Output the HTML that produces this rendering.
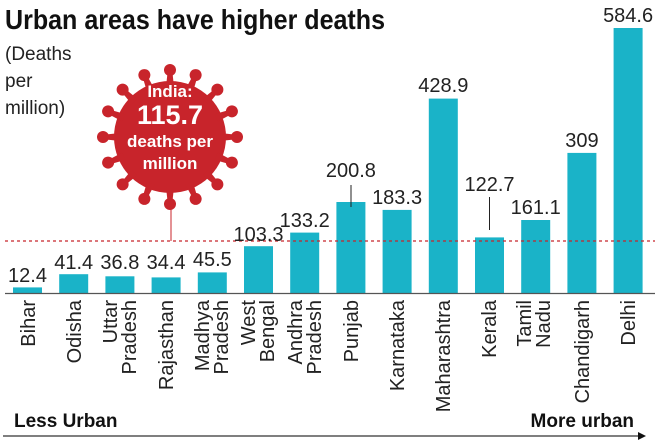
<!DOCTYPE html>
<html><head><meta charset="utf-8"><style>
html,body{margin:0;padding:0;background:#fff;}
svg{display:block;font-family:"Liberation Sans",sans-serif;}
</style></head><body>
<svg width="660" height="440" viewBox="0 0 660 440">
<text x="5" y="29" font-size="28" font-weight="bold" fill="#111" textLength="380" lengthAdjust="spacingAndGlyphs">Urban areas have higher deaths</text>
<text x="5" y="60" font-size="19" fill="#222">(Deaths</text>
<text x="5" y="87" font-size="19" fill="#222">per</text>
<text x="5" y="114" font-size="19" fill="#222">million)</text>

<!-- virus -->
<g fill="#c8242b" transform="translate(170,137)">
<circle r="56"/>
<g id="sp">
<path d="M-4,-50 L-2.5,-64 L2.5,-64 L4,-50 Z"/><circle cx="0" cy="-67" r="6"/>
</g>
<use href="#sp" transform="rotate(22.5)"/><use href="#sp" transform="rotate(45)"/><use href="#sp" transform="rotate(67.5)"/>
<use href="#sp" transform="rotate(90)"/><use href="#sp" transform="rotate(112.5)"/><use href="#sp" transform="rotate(135)"/>
<use href="#sp" transform="rotate(157.5)"/><use href="#sp" transform="rotate(180)"/><use href="#sp" transform="rotate(202.5)"/>
<use href="#sp" transform="rotate(225)"/><use href="#sp" transform="rotate(247.5)"/><use href="#sp" transform="rotate(270)"/>
<use href="#sp" transform="rotate(292.5)"/><use href="#sp" transform="rotate(315)"/><use href="#sp" transform="rotate(337.5)"/>
</g>
<g fill="#fff" font-weight="bold" text-anchor="middle">
<text x="170" y="97" font-size="17">India:</text>
<text x="170" y="124" font-size="27">115.7</text>
<text x="170" y="147" font-size="17">deaths per</text>
<text x="170" y="169" font-size="17">million</text>
</g>
<line x1="171" y1="200" x2="171" y2="241" stroke="#c8242b" stroke-width="1"/>

<!-- bars -->
<g fill="#1ab3c8">
<rect x="13" y="287.4" width="29" height="5.6"/>
<rect x="59.2" y="274.2" width="29" height="18.8"/>
<rect x="105.4" y="276.3" width="29" height="16.7"/>
<rect x="151.6" y="277.4" width="29" height="15.6"/>
<rect x="197.8" y="272.4" width="29" height="20.6"/>
<rect x="244" y="246.2" width="29" height="46.8"/>
<rect x="290.2" y="232.6" width="29" height="60.4"/>
<rect x="336.4" y="202" width="29" height="91"/>
<rect x="382.6" y="209.9" width="29" height="83.1"/>
<rect x="428.8" y="98.6" width="29" height="194.4"/>
<rect x="475" y="237.4" width="29" height="55.6"/>
<rect x="521.2" y="220" width="29" height="73"/>
<rect x="567.4" y="152.9" width="29" height="140.1"/>
<rect x="613.6" y="28" width="29" height="265"/>
</g>
<line x1="5" y1="241" x2="655" y2="241" stroke="#c8242b" stroke-width="1.3" stroke-dasharray="3,3"/>
<line x1="5" y1="293.5" x2="655" y2="293.5" stroke="#555" stroke-width="1.2"/>

<g font-size="20" fill="#222" text-anchor="middle">
<text x="27.5" y="282">12.4</text>
<text x="73.7" y="269">41.4</text>
<text x="119.9" y="269">36.8</text>
<text x="166.1" y="269">34.4</text>
<text x="212.3" y="266">45.5</text>
<text x="258.5" y="241">103.3</text>
<text x="304.7" y="227">133.2</text>
<text x="350.9" y="177">200.8</text>
<text x="397.1" y="204">183.3</text>
<text x="443.3" y="92">428.9</text>
<text x="489.5" y="191">122.7</text>
<text x="535.7" y="214">161.1</text>
<text x="581.9" y="147">309</text>
<text x="628.1" y="22">584.6</text>
</g>
<line x1="351" y1="185" x2="351" y2="207" stroke="#222" stroke-width="1"/>
<line x1="489.5" y1="197" x2="489.5" y2="230" stroke="#222" stroke-width="1"/>

<!-- rotated labels -->
<g font-size="20" fill="#222" text-anchor="end">
<text transform="translate(35,300) rotate(-90)">Bihar</text>
<text transform="translate(81,300) rotate(-90)">Odisha</text>
<text transform="translate(117,300) rotate(-90)">Uttar</text>
<text transform="translate(136,300) rotate(-90)">Pradesh</text>
<text transform="translate(173,300) rotate(-90)">Rajasthan</text>
<text transform="translate(209,300) rotate(-90)">Madhya</text>
<text transform="translate(228,300) rotate(-90)">Pradesh</text>
<text transform="translate(255,300) rotate(-90)">West</text>
<text transform="translate(274,300) rotate(-90)">Bengal</text>
<text transform="translate(302,300) rotate(-90)">Andhra</text>
<text transform="translate(321,300) rotate(-90)">Pradesh</text>
<text transform="translate(358,300) rotate(-90)">Punjab</text>
<text transform="translate(404,300) rotate(-90)">Karnataka</text>
<text transform="translate(450,300) rotate(-90)">Maharashtra</text>
<text transform="translate(496,300) rotate(-90)">Kerala</text>
<text transform="translate(531,300) rotate(-90)">Tamil</text>
<text transform="translate(550,300) rotate(-90)">Nadu</text>
<text transform="translate(589,300) rotate(-90)">Chandigarh</text>
<text transform="translate(635,300) rotate(-90)">Delhi</text>
</g>

<text x="14" y="427" font-size="19" font-weight="bold" fill="#111">Less Urban</text>
<text x="634" y="427" font-size="19" font-weight="bold" fill="#111" text-anchor="end">More urban</text>
<line x1="3" y1="436" x2="640" y2="436" stroke="#333" stroke-width="1.2"/>
<polygon points="646,436 638,432 638,440" fill="#111"/>
</svg>
</body></html>
